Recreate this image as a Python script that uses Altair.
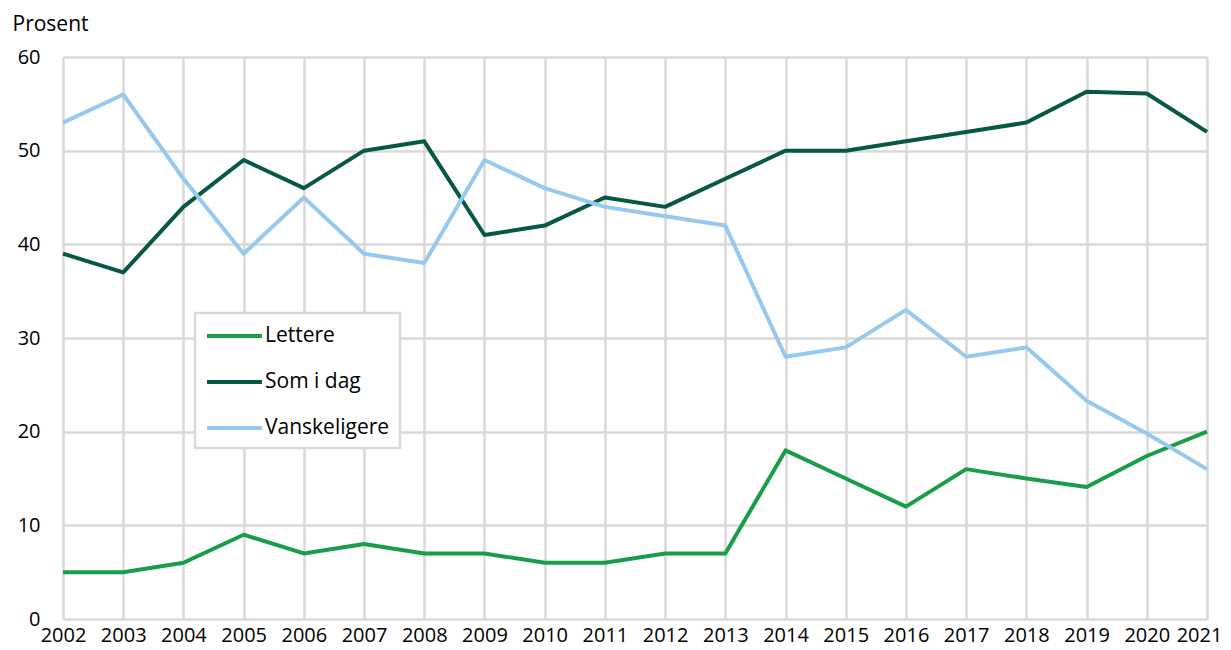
import altair as alt
import pandas as pd

years = list(range(2002, 2022))
lettere = [5, 5, 6, 9, 7, 8, 7, 7, 6, 6, 7, 7, 18, 15, 12, 16, 15, 14.1, 17.4, 20]
som_i_dag = [39, 37, 44, 49, 46, 50, 51, 41, 42, 45, 44, 47, 50, 50, 51, 52, 53, 56.3, 56.1, 52]
vanskeligere = [53, 56, 47, 39, 45, 39, 38, 49, 46, 44, 43, 42, 28, 29, 33, 28, 29, 23.3, 19.8, 16]

series_names = ["Lettere", "Som i dag", "Vanskeligere"]
series_colors = ["#1a9d49", "#075745", "#97c9ee"]
y_ticks = [0, 10, 20, 30, 40, 50, 60]

rows = []
for name, vals in zip(series_names, [lettere, som_i_dag, vanskeligere]):
    for yr, v in zip(years, vals):
        rows.append({"year": yr, "value": v, "serie": name})
df = pd.DataFrame(rows)

FONT = "Open Sans"

chart = (
    alt.Chart(df)
    .mark_line(strokeWidth=4, strokeJoin="round")
    .encode(
        x=alt.X(
            "year:Q",
            scale=alt.Scale(domain=[2002, 2021], nice=False, zero=False),
            axis=alt.Axis(
                values=years,
                format="d",
                title=None,
                labelPadding=6,
                labelOverlap=False,
                labelFlush=False,
                labelOffset=alt.ExprRef("datum.value == 2021 ? -8 : 0"),
            ),
        ),
        y=alt.Y(
            "value:Q",
            scale=alt.Scale(domain=[0, 60], nice=False),
            axis=alt.Axis(
                values=y_ticks,
                title="Prosent",
                titleAngle=0,
                titleAlign="left",
                titleBaseline="alphabetic",
                titleX=-51,
                titleY=-27,
                titleFontSize=21,
                titleFontWeight="normal",
                titleFont=FONT,
                titleColor="#000000",
                labelPadding=23,
                labelOverlap=False,
                labelFlush=False,
            ),
        ),
        color=alt.Color(
            "serie:N",
            scale=alt.Scale(domain=series_names, range=series_colors),
            legend=alt.Legend(
                title=None,
                orient="none",
                legendX=132,
                legendY=256,
                symbolType="M-1,0H4",
                symbolSize=484,
                symbolStrokeWidth=4,
                labelOffset=34,
                rowPadding=23,
                padding=10,
                labelFontSize=21,
                labelFont=FONT,
                labelColor="#000000",
                labelLimit=300,
                fillColor="#ffffff",
                strokeColor="#d9d9d9",
                cornerRadius=0,
            ),
        ),
    )
    .properties(
        width=1144,
        height=562,
        autosize=alt.AutoSizeParams(type="none"),
        padding={"left": 55, "top": 49, "right": 16, "bottom": 23},
    )
    .configure_axis(
        grid=True,
        gridColor="#d9d9d9",
        gridWidth=2.5,
        domain=False,
        ticks=False,
        tickSize=0,
        labelFont=FONT,
        labelFontSize=20,
        labelColor="#000000",
    )
    .configure_legend(strokeWidth=2.5)
    .configure_view(stroke=None)
)

chart.save("out.html", embed_options={"renderer": "svg", "actions": False})
